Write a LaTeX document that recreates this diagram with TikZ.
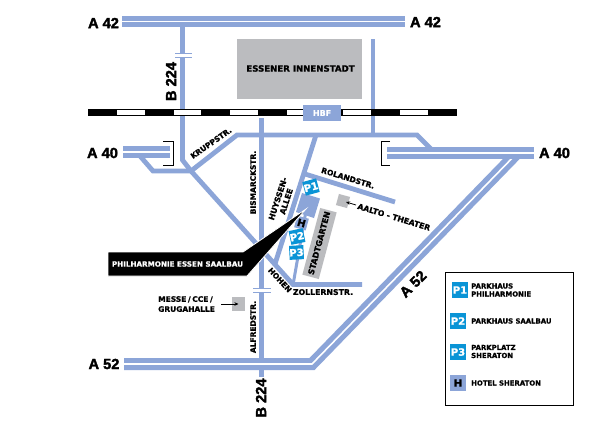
\documentclass[tikz,border=0pt]{standalone}
\usepackage{fontspec}
\setmainfont{DejaVu Sans}[BoldFeatures={FakeBold=1.2}]
\newfontfamily\bigfam{Liberation Sans}[BoldFeatures={FakeBold=2.2}]
\usetikzlibrary{arrows.meta}
\definecolor{road}{HTML}{8CA5D8}
\definecolor{area}{HTML}{BBBCBF}
\definecolor{park}{HTML}{0A94D6}
\tikzset{
  roadline/.style={draw=road,line width=4.8pt,line join=miter},
  motorway/.style={draw=road,line width=5pt},
  dualway/.style={draw=road,line width=5.2pt,double=white,double distance=1.6pt,line join=miter},
  bridgeline/.style={draw=road,line width=1.3pt},
  railblack/.style={fill=black},
  small/.style={font=\fontsize{7.5}{8.2}\selectfont\bfseries,inner sep=0pt,text depth=0pt,align=center},
  legendtext/.style={font=\fontsize{6.9}{8}\selectfont\bfseries,inner sep=0pt,anchor=west,align=left},
  big/.style={font=\fontsize{14.6}{16}\selectfont\bigfam\bfseries,inner sep=0pt},
  parkbox/.style={fill=park,text=white,draw=none,minimum size=#1,inner sep=0pt,font=\fontsize{10}{10}\selectfont\bfseries},
  hotelbox/.style={fill=road,text=black,draw=none,minimum size=#1,inner sep=0pt,font=\fontsize{10}{10}\selectfont\bfseries},
  graybox/.style={fill=area,draw=none},
  bracket/.style={draw=black,line width=1pt},
  pointer/.style={draw=black,line width=.8pt,-{Stealth[length=4pt,width=3.5pt]}}
}
\begin{document}
\begin{tikzpicture}[x=1pt,y=-1pt]
\useasboundingbox (0,0) rectangle (600,424);
\fill[white] (0,0) rectangle (600,424);

% Innenstadt
\node[graybox,minimum width=125pt,minimum height=60pt,inner sep=0pt] (city) at (299.5,69) {};

% city roads
\draw[roadline] (182.5,27) -- (182.5,160) -- (191,171) -- (293,284.5) -- (362,284.5);
\draw[roadline] (191,171) -- (237,135) -- (417,135) -- (432,150);
\draw[roadline] (140,156) -- (153,171) -- (191,171);
\draw[roadline] (261.5,118) -- (261.5,377);
\draw[roadline] (373,39) -- (373,135);
\draw[roadline] (316,135) -- (275,264);
\draw[roadline] (305,174) -- (395,202);
\draw[draw=road,line width=3pt] (307,205) -- (293,285);

% motorways
\draw[motorway] (122,18.5) -- (405,18.5);
\draw[motorway] (122,24.5) -- (405,24.5);
\draw[motorway] (123,148.5) -- (170,148.5);
\draw[motorway] (123,155.5) -- (170,155.5);
\begin{scope}
\clip (100,156) rectangle (560,380);
\draw[dualway] (124,364) -- (312,364) -- (521,149);
\end{scope}
\draw[motorway] (387,149.5) -- (534,149.5);
\draw[motorway] (387,156.5) -- (534,156.5);

% brackets
\draw[bracket] (163,141.5) -- (173,141.5) -- (173,165) -- (163,165);
\draw[bracket] (390,141.5) -- (381,141.5) -- (381,165) -- (390,165);

% bridges
\fill[white] (175,54) rectangle (192,57);
\draw[bridgeline] (175,53.5) -- (192,53.5);
\draw[bridgeline] (175,57.5) -- (192,57.5);
\fill[white] (253,289) rectangle (271,292);
\draw[bridgeline] (253,288.5) -- (271,288.5);
\draw[bridgeline] (253,292.5) -- (271,292.5);

% railway
\fill[railblack] (88,109) rectangle (457,116);
\foreach \a/\b in {117/145,174/201,230/258,287/303,343/371,400/428}{
  \fill[white] (\a,110.2) rectangle (\b,114.8);
}
\node[fill=road,text=white,minimum width=38pt,minimum height=16pt,inner sep=0pt,font=\fontsize{8}{9}\selectfont\bfseries] (hbf) at (322,113) {HBF};

% building & parking
\fill[road] (302,193) -- (320,198.5) -- (314,218) -- (296,212) -- cycle;
\node[graybox,minimum width=17pt,minimum height=69pt,inner sep=0pt,rotate=-15] (garten) at (319.5,243.5) {};
\node[graybox,minimum size=11.5pt,inner sep=0pt,rotate=-15] (aalto) at (343,201) {};
\node[parkbox=14pt,rotate=15] (pa) at (311,187) {P1};
\node[hotelbox=12pt,rotate=-15] (hh) at (301.5,223) {H};
\node[parkbox=14pt,rotate=12] (pb) at (297,236.5) {P2};
\node[parkbox=14pt,rotate=3] (pc) at (296.5,252.5) {P3};

% label wedge
\draw[fill=black,draw=white,line width=.8pt] (108,252) -- (243,252) -- (306,209) -- (247,276) -- (108,276) -- cycle;
\node[text=white,font=\fontsize{7.2}{8}\selectfont\bfseries,inner sep=0pt] (phil) at (177.5,264) {PHILHARMONIE ESSEN SAALBAU};

% Messe
\node[graybox,minimum size=13.5pt,inner sep=0pt] (messe) at (238.5,304) {};
\node[small,anchor=west,align=left,font=\fontsize{7.5}{10}\selectfont\bfseries] (messet) at (158,304) {MESSE\hspace{1.6pt}/\hspace{1.6pt}CCE\hspace{1.6pt}/\\GRUGAHALLE};
\coordinate (messefrom) at (221,304);
\draw[pointer] (messefrom) -- (messe.center);
\coordinate (aaltofrom) at (356,205);
\coordinate (aaltotip) at (346,202);
\draw[pointer] (aaltofrom) -- (aaltotip);

% labels
\node[font=\fontsize{8.6}{9}\selectfont\bfseries,inner sep=0pt] (inn) at (300.5,68.5) {ESSENER INNENSTADT};
\node[big] (a42l) at (103.5,23) {A 42};
\node[big] (a42r) at (425.5,22) {A 42};
\node[big] (a40l) at (102.5,153) {A 40};
\node[big] (a40r) at (554.5,153) {A 40};
\node[big] (a52l) at (104,364) {A 52};
\node[big,rotate=45] (a52d) at (413,284) {A 52};
\node[big,rotate=90] (b224t) at (171,81.5) {B 224};
\node[big,rotate=90] (b224b) at (261,398) {B 224};
\node[small,rotate=35] (krupp) at (211,143) {KRUPPSTR.};
\node[small,rotate=90] (bism) at (253,182.5) {BISMARCKSTR.};
\node[small,rotate=90] (alfr) at (253,327) {ALFREDSTR.};
\node[small,rotate=72,font=\fontsize{7.8}{8.8}\selectfont\bfseries] (huys) at (282,200) {HUYSSEN-\\ALLEE};
\node[small,rotate=-17,font=\fontsize{7.6}{9}\selectfont\bfseries] (rol) at (348,178) {ROLANDSTR.};
\node[small,rotate=-17,font=\fontsize{7.8}{9}\selectfont\bfseries] (aaltot) at (394,217) {AALTO - THEATER};
\node[small,rotate=75,font=\fontsize{8}{9}\selectfont\bfseries] (stadt) at (319,243) {STADTGARTEN};
\node[small,rotate=-47] (hohen) at (280,280) {HOHEN};
\node[small,font=\fontsize{7.8}{9}\selectfont\bfseries] (zoll) at (323,292) {ZOLLERNSTR.};

% legend
\draw[draw=black,line width=1pt,fill=white] (445,272) rectangle (573,405);
\node[parkbox=16pt] (l1) at (460,290) {P1};
\node[parkbox=16pt] (l2) at (458,321) {P2};
\node[parkbox=16pt] (l3) at (458,352) {P3};
\node[hotelbox=16pt] (l4) at (458,383) {H};
\node[legendtext] (t1) at (471,290) {PARKHAUS\\PHILHARMONIE};
\node[legendtext] (t2) at (471,321) {PARKHAUS SAALBAU};
\node[legendtext] (t3) at (471,351.5) {PARKPLATZ\\SHERATON};
\node[legendtext] (t4) at (471,383) {HOTEL SHERATON};
\end{tikzpicture}
\end{document}
